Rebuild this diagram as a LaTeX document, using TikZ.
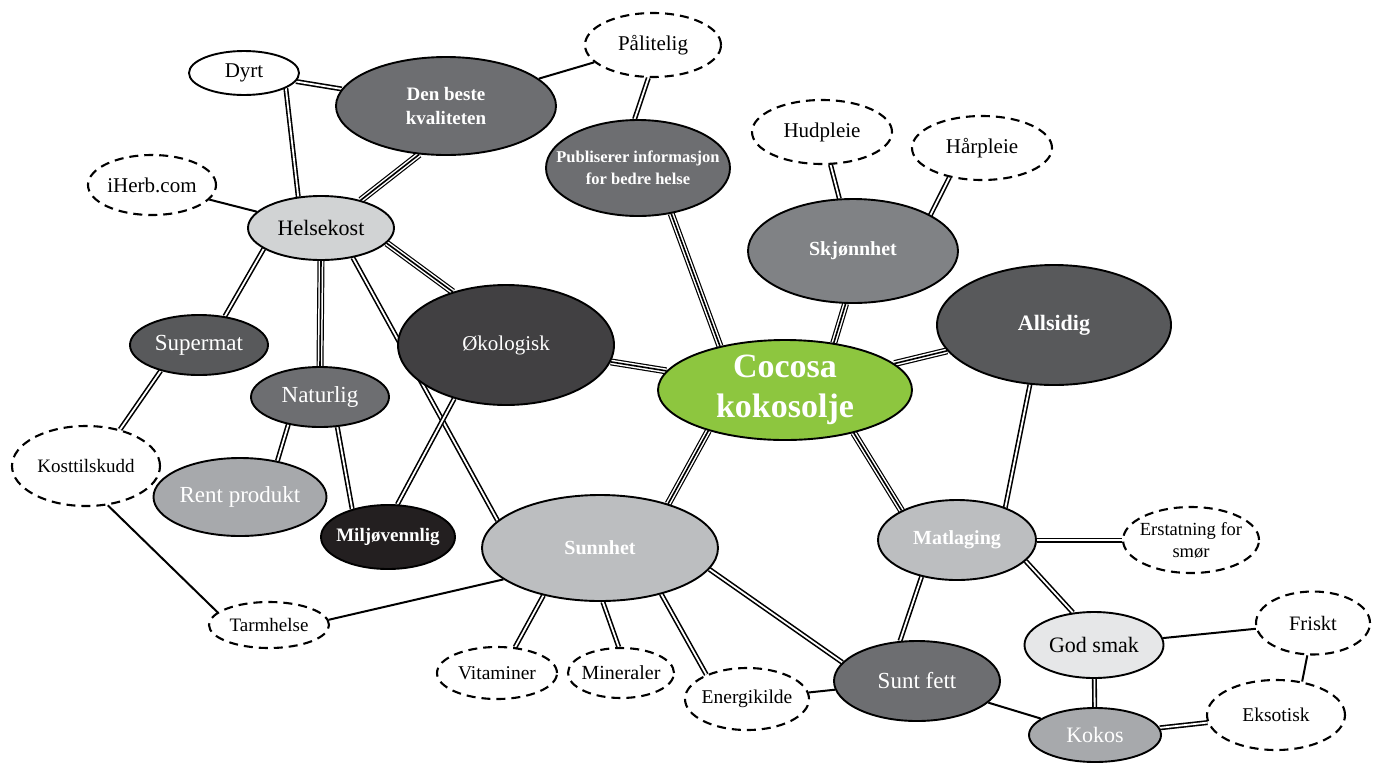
\documentclass[tikz,border=0pt]{standalone}
\usepackage{fontspec}
\setmainfont{Liberation Serif}
\usetikzlibrary{shapes.geometric,backgrounds}
\definecolor{cA}{HTML}{6D6E71}
\definecolor{cB}{HTML}{808285}
\definecolor{cC}{HTML}{58595B}
\definecolor{cD}{HTML}{D1D3D4}
\definecolor{cE}{HTML}{414042}
\definecolor{cF}{HTML}{A7A9AC}
\definecolor{cG}{HTML}{231F20}
\definecolor{cH}{HTML}{BCBEC0}
\definecolor{cI}{HTML}{E6E7E8}
\definecolor{cocogreen}{HTML}{8DC63F}
\begin{document}
\begin{tikzpicture}[x=1pt,y=-1pt,
  bub/.style={ellipse, draw=black, line width=1.9pt, inner sep=0pt},
  dbub/.style={ellipse, draw=black, line width=2.1pt, dash pattern=on 9pt off 6pt, fill=white, inner sep=0pt},
  wt/.style={text=white, align=center, inner sep=0pt},
  bt/.style={text=black, align=center, inner sep=0pt},
  one/.style={draw=black, line width=2pt},
  two/.style={draw=black, double=white, double distance=1.8pt, line width=1.6pt},
  three/.style={draw=black, line width=7pt, postaction={draw=white, line width=4.6pt}, postaction={draw=black, line width=1.6pt}},
]
\useasboundingbox (0,0) rectangle (1378,764);
% ellipses
\node[bub, fill=white, minimum width=110pt, minimum height=44pt] (dyrt) at (244,73) {};
\node[bub, fill=cA, minimum width=220pt, minimum height=98pt] (db) at (446,106) {};
\node[dbub, minimum width=136pt, minimum height=64pt] (pal) at (653,45) {};
\node[bub, fill=cA, minimum width=184pt, minimum height=96pt] (pub) at (638,168) {};
\node[dbub, minimum width=140pt, minimum height=64pt] (hud) at (822,132) {};
\node[dbub, minimum width=140pt, minimum height=64pt] (har) at (982,148) {};
\node[bub, fill=cB, minimum width=210pt, minimum height=104pt] (skj) at (853,251) {};
\node[bub, fill=cC, minimum width=234pt, minimum height=120pt] (all) at (1054,325) {};
\node[dbub, minimum width=128pt, minimum height=60pt] (ih) at (152,185) {};
\node[bub, fill=cD, minimum width=146pt, minimum height=64pt] (hk) at (321,228) {};
\node[bub, fill=cC, minimum width=138pt, minimum height=60pt] (sm) at (199,345) {};
\node[bub, fill=cA, minimum width=138pt, minimum height=60pt] (nat) at (320,397) {};
\node[bub, fill=cE, minimum width=216pt, minimum height=120pt] (oko) at (506,345) {};
\node[bub, fill=cocogreen, minimum width=254pt, minimum height=100pt] (coc) at (785,390) {};
\node[dbub, minimum width=148pt, minimum height=80pt] (kt) at (86,466) {};
\node[bub, fill=cF, minimum width=173pt, minimum height=78pt] (rp) at (240,497) {};
\node[bub, fill=cG, minimum width=134pt, minimum height=64pt] (mil) at (388,537) {};
\node[bub, fill=cH, minimum width=236pt, minimum height=106pt] (sun) at (600,548) {};
\node[bub, fill=cH, minimum width=158pt, minimum height=80pt] (mat) at (957,540) {};
\node[dbub, minimum width=136pt, minimum height=66pt] (ers) at (1191,540) {};
\node[dbub, minimum width=120pt, minimum height=46pt] (tarm) at (269,625) {};
\node[dbub, minimum width=120pt, minimum height=52pt] (vit) at (497,673) {};
\node[dbub, minimum width=106pt, minimum height=50pt] (min) at (621,673) {};
\node[dbub, minimum width=124pt, minimum height=62pt] (ene) at (747,699) {};
\node[bub, fill=cA, minimum width=166pt, minimum height=80pt] (sf) at (917,681) {};
\node[bub, fill=cI, minimum width=139pt, minimum height=66pt] (god) at (1094,645) {};
\node[dbub, minimum width=114pt, minimum height=63pt] (fr) at (1313,623) {};
\node[bub, fill=cF, minimum width=132pt, minimum height=54pt] (kok) at (1095,735) {};
\node[dbub, minimum width=138pt, minimum height=70pt] (eks) at (1276,715) {};
% texts
\node[bt, font=\fontsize{21}{24}\selectfont] (dyrt-t) at (dyrt) {Dyrt};
\node[wt, font=\bfseries\fontsize{19}{24}\selectfont] (db-t) at (db) {Den beste\\kvaliteten};
\node[bt, font=\fontsize{21}{24}\selectfont] (pal-t) at (pal) {Pålitelig};
\node[wt, font=\bfseries\fontsize{16.5}{22}\selectfont] (pub-t) at (pub) {Publiserer informasjon\\for bedre helse};
\node[bt, font=\fontsize{21}{24}\selectfont] (hud-t) at (hud) {Hudpleie};
\node[bt, font=\fontsize{21}{24}\selectfont] (har-t) at (har) {Hårpleie};
\node[wt, font=\bfseries\fontsize{20}{24}\selectfont] (skj-t) at (skj) {Skjønnhet};
\node[wt, font=\bfseries\fontsize{22}{24}\selectfont] (all-t) at (all) {Allsidig};
\node[bt, font=\fontsize{21}{24}\selectfont] (ih-t) at (ih) {iHerb.com};
\node[bt, font=\fontsize{22}{24}\selectfont] (hk-t) at (hk) {Helsekost};
\node[wt, font=\fontsize{23}{24}\selectfont] (sm-t) at (sm) {Supermat};
\node[wt, font=\fontsize{23}{24}\selectfont] (nat-t) at (nat) {Naturlig};
\node[wt, font=\fontsize{21}{24}\selectfont] (oko-t) at (oko) {Økologisk};
\node[wt, font=\bfseries\fontsize{34}{40}\selectfont] (coc-t) at (coc) {Cocosa\\kokosolje};
\node[bt, font=\fontsize{19}{24}\selectfont] (kt-t) at (kt) {Kosttilskudd};
\node[wt, font=\fontsize{23}{24}\selectfont] (rp-t) at (rp) {Rent produkt};
\node[wt, font=\bfseries\fontsize{19}{24}\selectfont] (mil-t) at (mil) {Miljøvennlig};
\node[wt, font=\bfseries\fontsize{20}{24}\selectfont] (sun-t) at (sun) {Sunnhet};
\node[wt, font=\bfseries\fontsize{20}{24}\selectfont] (mat-t) at (mat) {Matlaging};
\node[bt, font=\fontsize{18.5}{22}\selectfont] (ers-t) at (ers) {Erstatning for\\smør};
\node[bt, font=\fontsize{19}{24}\selectfont] (tarm-t) at (tarm) {Tarmhelse};
\node[bt, font=\fontsize{19.5}{24}\selectfont] (vit-t) at (vit) {Vitaminer};
\node[bt, font=\fontsize{20}{24}\selectfont] (min-t) at (min) {Mineraler};
\node[bt, font=\fontsize{19.5}{24}\selectfont] (ene-t) at (ene) {Energikilde};
\node[wt, font=\fontsize{23}{24}\selectfont] (sf-t) at (sf) {Sunt fett};
\node[bt, font=\fontsize{22}{24}\selectfont] (god-t) at (god) {God smak};
\node[wt, font=\fontsize{22}{24}\selectfont] (kok-t) at (kok) {Kokos};
\node[bt, font=\fontsize{20.5}{24}\selectfont] (fr-t) at (fr) {Friskt};
\node[bt, font=\fontsize{19.5}{24}\selectfont] (eks-t) at (eks) {Eksotisk};
% connectors
\begin{scope}[on background layer]
\draw[two] (dyrt) -- (db);
\draw[two] (dyrt.-20) -- (hk.126);
\draw[one] (db) -- (pal);
\draw[three] (db.241) -- (hk.35);
\draw[two] (pal.-98) -- (pub.94);
\draw[one] (ih) -- (hk);
\draw[two] (hk.200) -- (sm.48);
\draw[three] (hk.-90) -- (nat.90);
\draw[three] (hk.-13) -- (oko.135);
\draw[two] (hk.-43) -- (sun.165);
\draw[two] (sm.214) -- (kt.47);
\draw[two] (nat.221) -- (rp.44);
\draw[two] (nat.-60) -- (mil.142);
\draw[two] (oko.226) -- (mil.74);
\draw[three] (oko) -- (coc);
\draw[three] (pub.-54) -- (coc.146);
\draw[three] (skj.262) -- (coc.44);
\draw[two] (hud) -- (skj);
\draw[two] (har.222) -- (skj.25);
\draw[three] (all) -- (coc);
\draw[two] (all.248) -- (mat.34);
\draw[three] (coc.208) -- (sun.33);
\draw[three] (coc.-32) -- (mat.152);
\draw[two] (mat) -- (ers);
\draw[two] (mat.-17) -- (god.123);
\draw[two] (mat.226) -- (sf.113);
\draw[two] (sun.-11) -- (sf.166);
\draw[one] (sun.198) -- (tarm.5);
\draw[one] (kt.-61) -- (tarm.166);
\draw[two] (sun.220) -- (vit.55);
\draw[two] (sun.-87) -- (min.95);
\draw[two] (sun.-37) -- (ene.149);
\draw[one] (ene) -- (sf);
\draw[one] (sf) -- (kok);
\draw[two] (god) -- (kok);
\draw[one] (god) -- (fr);
\draw[one] (fr.-100) -- (eks.52);
\draw[two] (kok) -- (eks);
\end{scope}
\end{tikzpicture}
\end{document}
